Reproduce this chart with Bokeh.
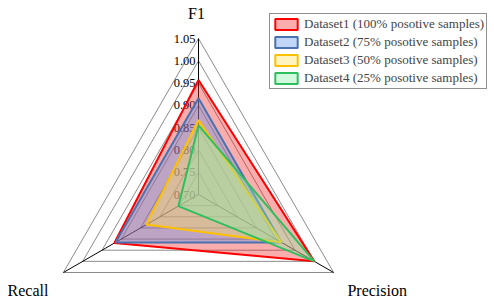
import numpy as np
from bokeh.plotting import figure
from bokeh.models import Range1d, Legend, LegendItem
from bokeh.embed import file_html
from bokeh.resources import INLINE
from bokeh.core.properties import value

# ---- data ----
axis_names = ["F1", "Precision", "Recall"]
tick_values = [0.70, 0.75, 0.80, 0.85, 0.90, 0.95, 1.00, 1.05]
tick_labels = ["0.70", "0.75", "0.80", "0.85", "0.90", "0.95", "1.00", "1.05"]
series_names = [
    "Dataset1 (100% posotive samples)",
    "Dataset2 (75% posotive samples)",
    "Dataset3 (50% posotive samples)",
    "Dataset4 (25% posotive samples)",
]
dataset1 = [0.957, 1.000, 0.918]
dataset2 = [0.916, 0.915, 0.915]
dataset3 = [0.867, 0.915, 0.835]
dataset4 = [0.855, 1.000, 0.752]
series_values = [dataset1, dataset2, dataset3, dataset4]

# ---- style ----
line_colors = ["#FF0000", "#4A72B0", "#FFC000", "#2FBF5F"]
fill_colors = ["#F02828", "#5F96EB", "#FFE15A", "#8CF0AA"]
FONT = "Liberation Serif"
R = 156.0                      # pixel radius of outer ring
vmin, vmax = tick_values[0], tick_values[-1]
angles = np.deg2rad([90, -30, 210])


def to_xy(vals):
    r = (np.asarray(vals) - vmin) / (vmax - vmin) * R
    return list(r * np.cos(angles)), list(r * np.sin(angles))


p = figure(width=494, height=302, output_backend="svg", toolbar_location=None,
           x_range=Range1d(-198, 296), y_range=Range1d(-108, 194),
           min_border=0, tools="")
p.axis.visible = False
p.grid.visible = False
p.outline_line_color = None
p.background_fill_color = None

# grid rings
for tv in tick_values[1:]:
    xs, ys = to_xy([tv] * 3)
    p.line(xs + [xs[0]], ys + [ys[0]], line_color="#8c8c8c", line_width=1)

# spokes
for a in angles:
    p.line([0, R * np.cos(a)], [0, R * np.sin(a)], line_color="black", line_width=1)

# tick labels along F1 axis
ty = [(tv - vmin) / (vmax - vmin) * R for tv in tick_values]
p.text(x=[-3] * len(ty), y=ty, text=tick_labels, text_font=value(FONT),
       text_font_size="12.5px", text_align="right", text_baseline="middle",
       text_color="black")

# axis titles
title_x = [-2, 178.7, -170.5]
title_y = [181.5, -96, -96]
p.text(x=title_x, y=title_y, text=axis_names, text_font=value(FONT),
       text_font_size="16px", text_align="center", text_baseline="middle",
       text_color="black")

# series
items = []
for name, vals, lc, fc in zip(series_names, series_values, line_colors, fill_colors):
    xs, ys = to_xy(vals)
    r = p.patch(xs, ys, fill_color=fc, fill_alpha=0.38, line_color=lc,
                line_width=2)
    items.append(LegendItem(label=name, renderers=[r]))

legend = Legend(items=items, location=(269, 213), padding=2, spacing=2,
                margin=0, glyph_width=28, glyph_height=14, label_height=14,
                label_standoff=4, label_text_font=FONT,
                label_text_font_size="13px", border_line_color="#222222",
                border_line_width=1.5, background_fill_alpha=1)
p.add_layout(legend, "center")

open("out.html", "w").write(file_html(p, INLINE))
